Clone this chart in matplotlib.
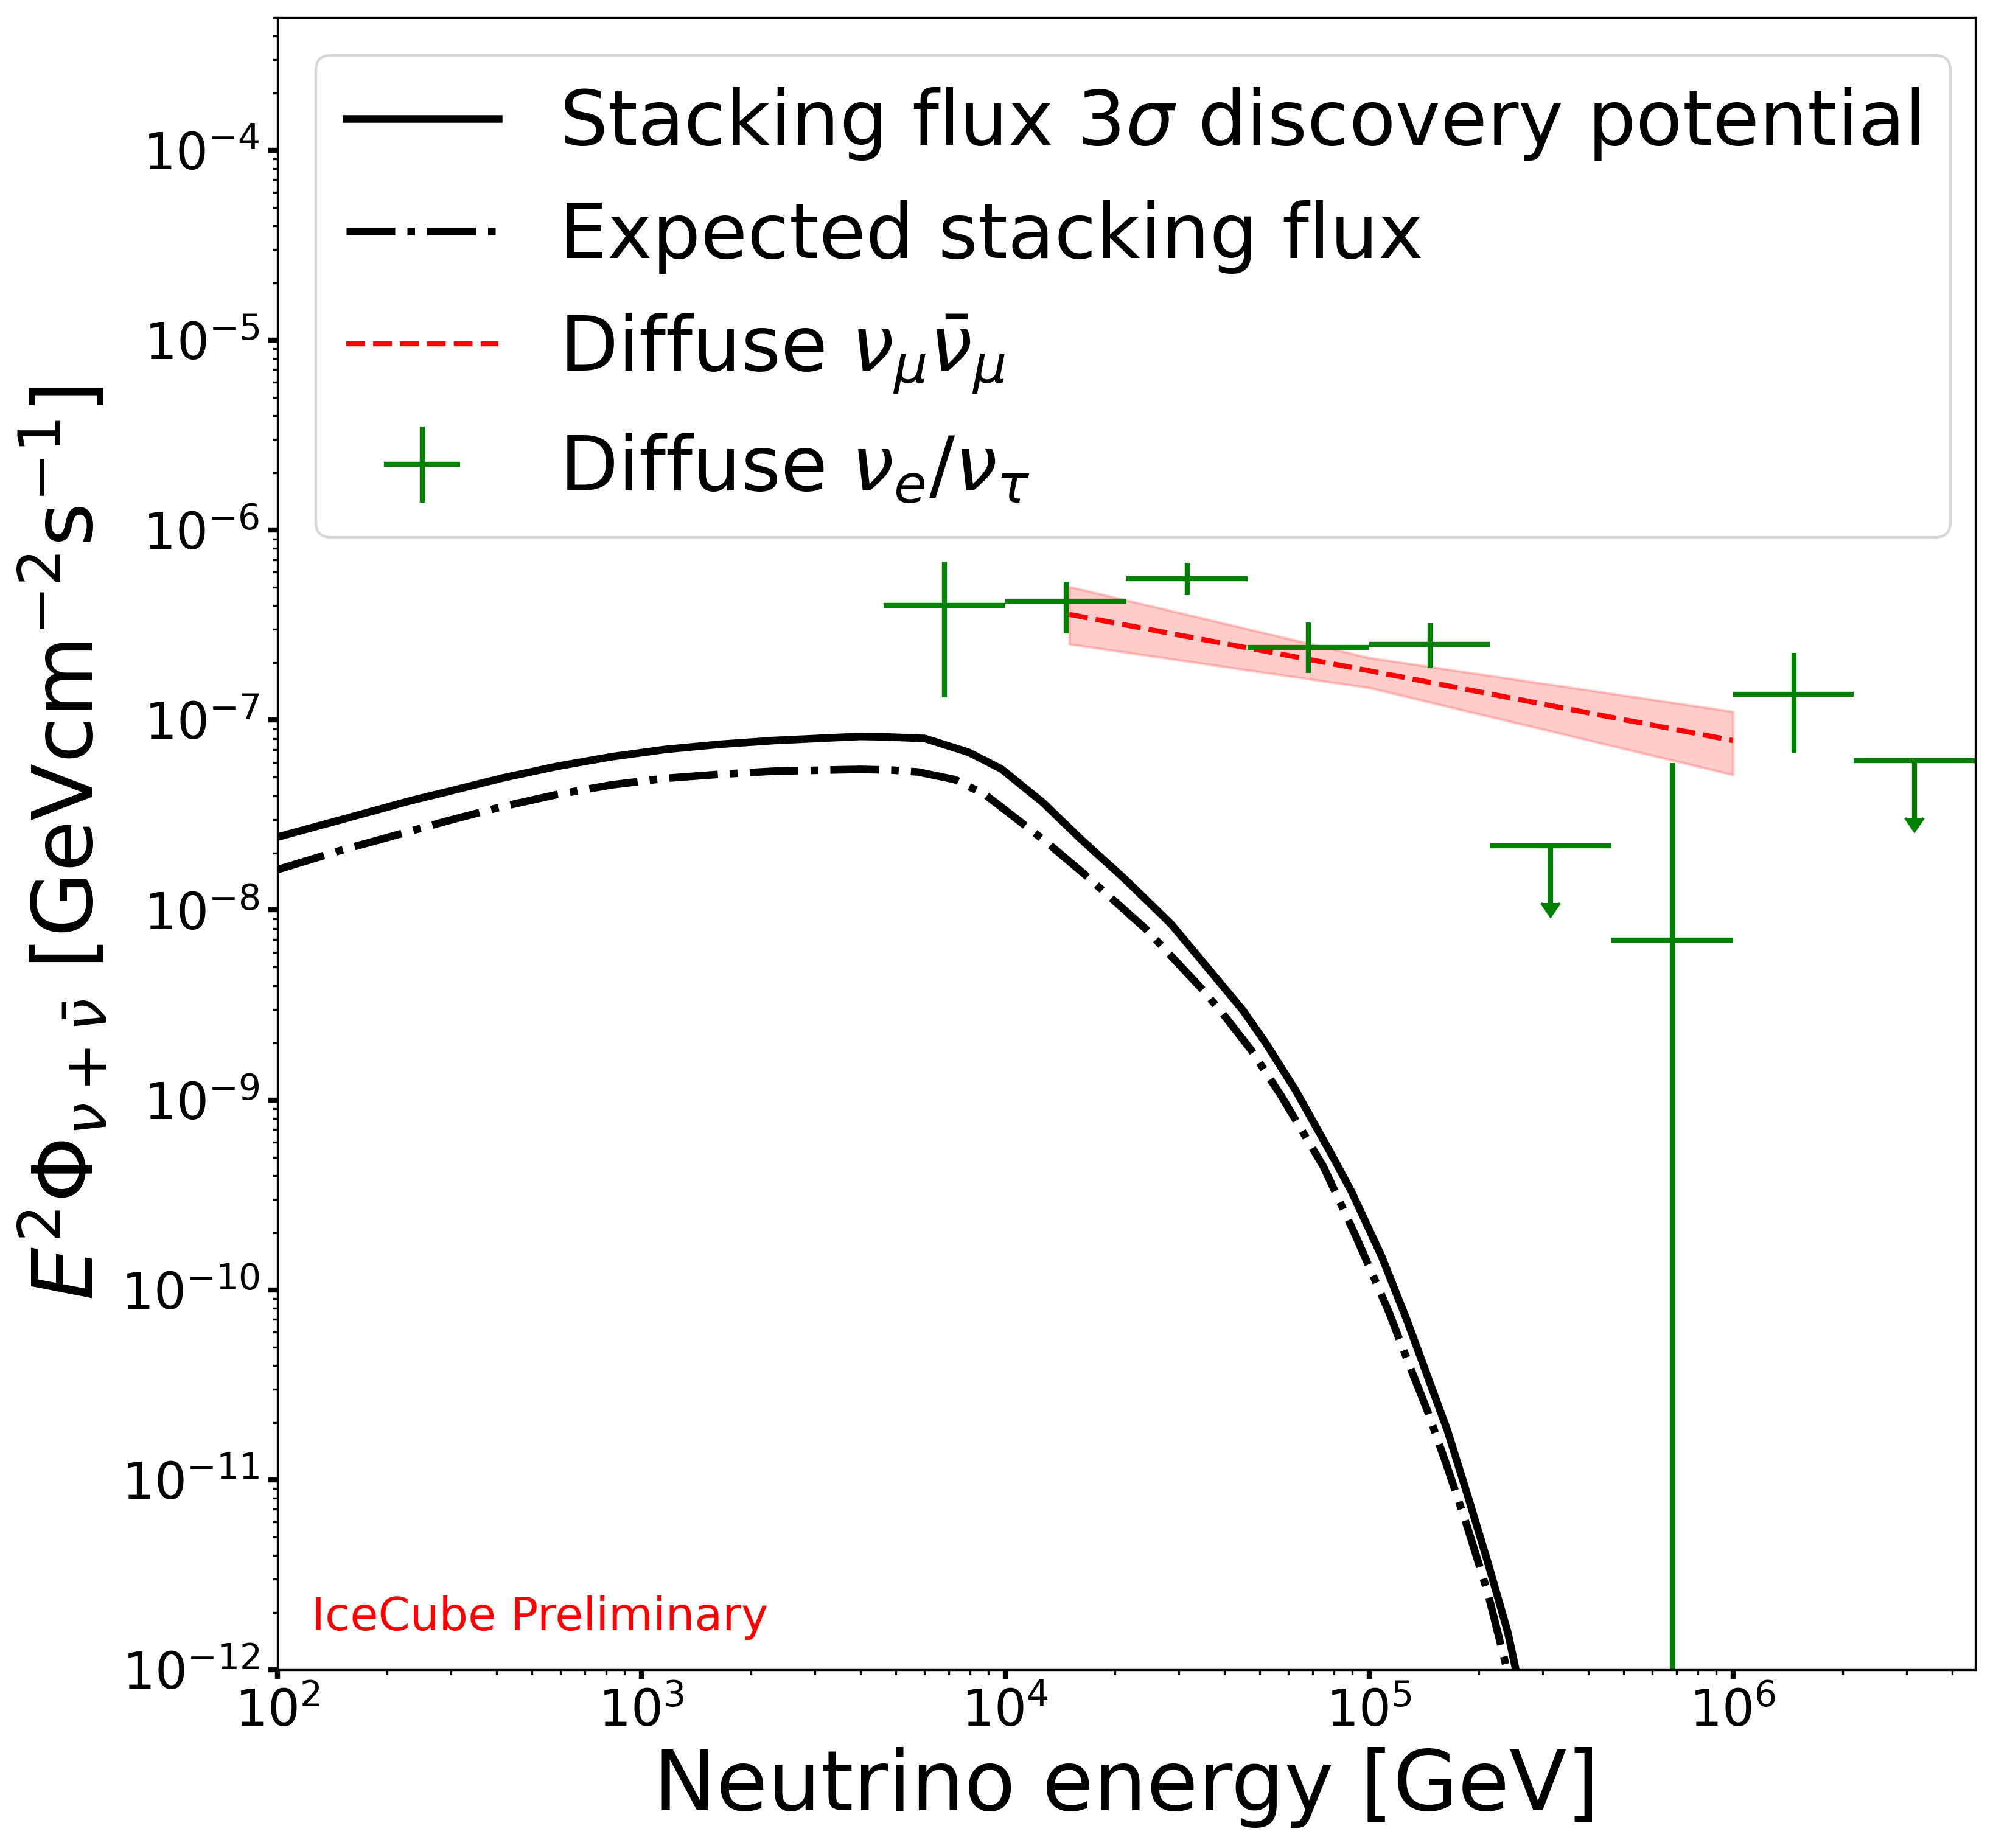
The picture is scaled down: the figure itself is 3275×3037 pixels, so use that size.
import numpy as np
import matplotlib
matplotlib.use("Agg")
import matplotlib.pyplot as plt
from matplotlib.ticker import LogLocator

# stacking flux curves (E in GeV, E^2 Phi in GeV cm^-2 s^-1)
stack_e = [100, 148, 232, 294, 415, 585, 824, 1161, 1637, 2307, 3990, 4550, 6012, 7943,
           9772, 12735, 16106, 21281, 28576, 37239, 45082, 51941, 62894, 79572, 89437,
           108290, 127280, 142430, 164000, 186470, 211930, 240880, 281840]
stack_dp = [2.42e-8, 2.97e-8, 3.76e-8, 4.2e-8, 4.95e-8, 5.7e-8, 6.4e-8, 7.0e-8, 7.45e-8,
            7.8e-8, 8.2e-8, 8.17e-8, 8.0e-8, 6.76e-8, 5.52e-8, 3.66e-8, 2.37e-8, 1.46e-8,
            8.43e-9, 4.59e-9, 2.95e-9, 2.0e-9, 1.12e-9, 5.0e-10, 3.3e-10, 1.5e-10,
            6.87e-11, 3.82e-11, 1.83e-11, 8.3e-12, 3.68e-12, 1.56e-12, 3.8e-13]

exp_e = [100, 148, 232, 294, 415, 585, 824, 1161, 1637, 2307, 3990, 4898, 5754, 7278,
         8810, 10990, 13122, 16596, 24322, 34594, 39264, 47534, 57544, 74989, 92159,
         113240, 130350, 144380, 164000, 186470, 211840, 234860, 263030]
exp_flux = [1.63e-8, 2.05e-8, 2.6e-8, 2.95e-8, 3.5e-8, 4.05e-8, 4.55e-8, 4.93e-8, 5.18e-8,
            5.38e-8, 5.5e-8, 5.45e-8, 5.33e-8, 4.86e-8, 4.05e-8, 2.92e-8, 2.24e-8, 1.53e-8,
            7.96e-9, 3.87e-9, 2.91e-9, 1.82e-9, 1.04e-9, 4.44e-10, 1.9e-10, 7.69e-11,
            3.82e-11, 2.33e-11, 1.17e-11, 5.6e-12, 2.55e-12, 1.16e-12, 4.8e-13]

# diffuse numu best fit and band
numu_e = [1.5e4, 1.0e5, 1.0e6]
numu_flux = [3.6e-7, 1.82e-7, 7.8e-8]
numu_lo = [2.51e-7, 1.48e-7, 5.15e-8]
numu_hi = [5.04e-7, 2.13e-7, 1.11e-7]

# diffuse nue/nutau segmented fit
bin_lo = [4.64e3, 1.0e4, 2.15e4, 4.64e4, 1.0e5, 4.64e5, 1.0e6]
bin_hi = [1.0e4, 2.15e4, 4.64e4, 1.0e5, 2.15e5, 1.0e6, 2.15e6]
seg_e = [6.81e3, 1.47e4, 3.16e4, 6.81e4, 1.47e5, 6.81e5, 1.47e6]
seg_flux = [4.01e-7, 4.24e-7, 5.57e-7, 2.42e-7, 2.51e-7, 6.92e-9, 1.37e-7]
seg_lo = [1.32e-7, 2.86e-7, 4.55e-7, 1.77e-7, 1.88e-7, 1e-14, 6.73e-8]
seg_hi = [6.83e-7, 5.36e-7, 6.74e-7, 3.26e-7, 3.24e-7, 5.94e-8, 2.26e-7]

# upper limits
ul_lo = [2.15e5, 2.15e6]
ul_hi = [4.64e5, 4.64e6]
ul_e = [3.16e5, 3.16e6]
ul_flux = [2.17e-8, 6.11e-8]

fig = plt.figure(figsize=(3275 / 300, 3037 / 300), dpi=300)
ax = fig.add_axes([0.1392, 0.0965, 0.852, 0.894])

ax.plot(stack_e, stack_dp, color='black', lw=3, label=r'Stacking flux 3$\sigma$ discovery potential')
ax.plot(exp_e, exp_flux, color='black', lw=3, ls='-.', label='Expected stacking flux')
ax.plot(numu_e, numu_flux, color='red', lw=2, ls='--', label=r'Diffuse $\nu_\mu\bar{\nu}_\mu$')
ax.fill_between(numu_e, numu_lo, numu_hi, color='red', alpha=0.2)

seg_e = np.array(seg_e)
seg_flux = np.array(seg_flux)
xerr = [seg_e - np.array(bin_lo), np.array(bin_hi) - seg_e]
yerr = [seg_flux - np.array(seg_lo), np.array(seg_hi) - seg_flux]
ax.errorbar(seg_e, seg_flux, xerr=xerr, yerr=yerr, fmt='none', color='green', ecolor='green',
            elinewidth=2, label=r'Diffuse $\nu_e/\nu_\tau$')

ul_e = np.array(ul_e)
ul_flux = np.array(ul_flux)
ul = ax.errorbar(ul_e, ul_flux, xerr=[ul_e - np.array(ul_lo), np.array(ul_hi) - ul_e],
                 yerr=0.5 * ul_flux, uplims=True, fmt='none', color='green', ecolor='green',
                 elinewidth=2)
for cap in ul[1]:
    cap.set_color('green')
    cap.set_markersize(7)

ax.set_xscale('log')
ax.set_yscale('log')
ax.set_xlim(1e2, 4.64e6)
ax.set_ylim(1e-12, 5e-4)
ax.yaxis.set_major_locator(LogLocator(base=10, numticks=30))
ax.yaxis.set_minor_locator(LogLocator(base=10, subs=np.arange(2, 10), numticks=30))
ax.tick_params(which='major', labelsize=20, width=2, length=3.5)
ax.tick_params(which='minor', width=0.8, length=2)

ax.set_xlabel('Neutrino energy [GeV]', fontsize=33)
ax.set_ylabel(r'$E^2\Phi_{\nu+\bar{\nu}}$ [GeVcm$^{-2}$s$^{-1}$]', fontsize=33)

ax.text(0.02, 0.024, 'IceCube Preliminary', color='red', fontsize=18, transform=ax.transAxes)

ax.legend(loc='upper right', bbox_to_anchor=(1.0075, 1.0), fontsize=30)

fig.savefig('out.png', dpi=300)
